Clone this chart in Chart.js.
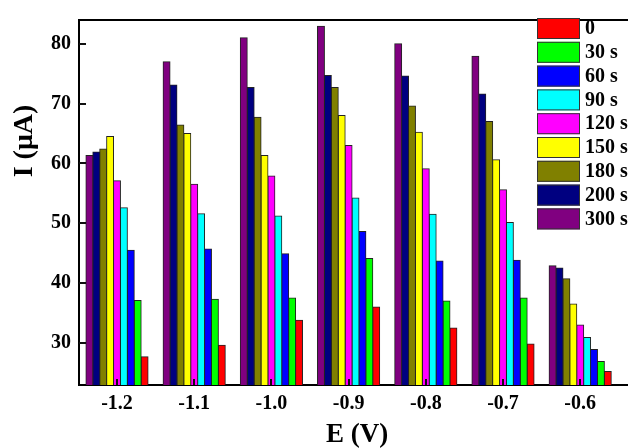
<!DOCTYPE html>
<html>
<head>
<meta charset="utf-8">
<script src="https://cdn.jsdelivr.net/npm/chart.js@4.4.0/dist/chart.umd.min.js"></script>
<style>
  html, body { margin: 0; padding: 0; background: #fff; overflow: hidden; width: 628px; height: 448px; }
  #wrap { position: relative; width: 650px; height: 448px; }
</style>
</head>
<body>
<div id="wrap"><canvas id="chart"></canvas></div>
<script>
// potentials (V) on the x axis
const potentials = [-1.2, -1.1, -1.0, -0.9, -0.8, -0.7, -0.6];

// current (uA) per accumulation time
const i300 = [61.3, 77.0, 81.0, 82.9, 80.0, 77.9, 42.9];
const i200 = [61.9, 73.1, 72.7, 74.7, 74.6, 71.6, 42.5];
const i180 = [62.4, 66.4, 67.7, 72.7, 69.6, 67.0, 40.7];
const i150 = [64.5, 65.0, 61.3, 68.0, 65.2, 60.6, 36.5];
const i120 = [57.1, 56.5, 57.9, 63.0, 59.1, 55.6, 33.0];
const i90  = [52.6, 51.6, 51.2, 54.2, 51.5, 50.1, 30.9];
const i60  = [45.5, 45.7, 44.9, 48.6, 43.7, 43.8, 28.9];
const i30  = [37.1, 37.3, 37.5, 44.1, 37.0, 37.5, 26.9];
const i0   = [27.7, 29.6, 33.8, 36.0, 32.5, 29.8, 25.2];

const yTicks = [30, 40, 50, 60, 70, 80];

const series = [
  { label: "300 s", values: i300, color: "#800080" },
  { label: "200 s", values: i200, color: "#000080" },
  { label: "180 s", values: i180, color: "#808000" },
  { label: "150 s", values: i150, color: "#FFFF00" },
  { label: "120 s", values: i120, color: "#FF00FF" },
  { label: "90 s",  values: i90,  color: "#00FFFF" },
  { label: "60 s",  values: i60,  color: "#0000FF" },
  { label: "30 s",  values: i30,  color: "#00FF00" },
  { label: "0",     values: i0,   color: "#FF0000" },
];

const FONT = "'Liberation Serif', 'Times New Roman', serif";

// frame, inward tick marks, axis titles and the legend
const decor = {
  id: "decor",
  afterDraw(chart) {
    const ctx = chart.ctx;
    const area = chart.chartArea;
    const x = chart.scales.x;
    const y = chart.scales.y;
    ctx.save();
    ctx.strokeStyle = "#000";
    ctx.lineWidth = 2;
    ctx.beginPath();
    ctx.moveTo(area.left - 1, area.top);
    ctx.lineTo(area.right, area.top);
    ctx.stroke();

    ctx.strokeStyle = "#111";
    yTicks.forEach((t) => {
      const py = Math.round(y.getPixelForValue(t));
      ctx.beginPath();
      ctx.moveTo(area.left, py);
      ctx.lineTo(area.left + 7, py);
      ctx.stroke();
    });
    potentials.forEach((p) => {
      const px = Math.round(x.getPixelForValue(p));
      ctx.beginPath();
      ctx.moveTo(px, area.bottom);
      ctx.lineTo(px, area.bottom - 6);
      ctx.stroke();
    });

    ctx.fillStyle = "#000";
    ctx.font = "bold 27px " + FONT;
    ctx.textAlign = "center";
    ctx.textBaseline = "middle";
    ctx.fillText("E (V)", 357, 435);
    ctx.save();
    ctx.translate(25, 141);
    ctx.rotate(-Math.PI / 2);
    ctx.font = "bold 28px " + FONT;
    ctx.fillText("I (μA)", 0, 0);
    ctx.restore();

    // legend, listed from 0 to 300 s
    const items = series.slice().reverse();
    ctx.font = "bold 20px " + FONT;
    ctx.textAlign = "left";
    items.forEach((s, i) => {
      const top = 18 + i * 23.8;
      ctx.fillStyle = s.color;
      ctx.fillRect(537, top, 43, 21);
      ctx.strokeStyle = "#333";
      ctx.lineWidth = 1;
      ctx.strokeRect(537.5, top + 0.5, 42, 20);
      ctx.fillStyle = "#000";
      ctx.fillText(s.label, 585, top + 11);
    });
    ctx.restore();
  },
};

new Chart(document.getElementById("chart"), {
  type: "bar",
  data: {
    datasets: series.map((s) => ({
      label: s.label,
      data: potentials.map((p, i) => ({ x: p, y: s.values[i] })),
      backgroundColor: s.color,
      borderColor: "#222",
      borderWidth: 1,
      borderSkipped: "start",
      inflateAmount: 0.5,
      barPercentage: 1,
      categoryPercentage: 0.805,
    })),
  },
  options: {
    responsive: true,
    maintainAspectRatio: false,
    animation: false,
    layout: { padding: { top: 15, left: 0, right: 0, bottom: 0 } },
    plugins: { legend: { display: false }, tooltip: { enabled: false } },
    scales: {
      x: {
        type: "linear",
        offset: false,
        min: -1.24922,
        max: -0.50959,
        grid: { display: false, drawTicks: false, offset: false },
        border: { display: true, color: "#000", width: 2 },
        ticks: {
          stepSize: 0.1,
          includeBounds: false,
          padding: 7,
          color: "#000",
          font: { family: FONT, size: 20, weight: "bold" },
          callback: (v) => v.toFixed(1),
        },
        afterFit: (scale) => { scale.height = 63; },
      },
      y: {
        min: 22.96,
        max: 83.96,
        grid: { display: false, drawTicks: false },
        border: { display: true, color: "#000", width: 2 },
        ticks: {
          stepSize: 10,
          includeBounds: false,
          padding: 8,
          color: "#000",
          font: { family: FONT, size: 20, weight: "bold" },
        },
        afterFit: (scale) => { scale.width = 79; },
      },
    },
  },
  plugins: [decor],
});
</script>
</body>
</html>
